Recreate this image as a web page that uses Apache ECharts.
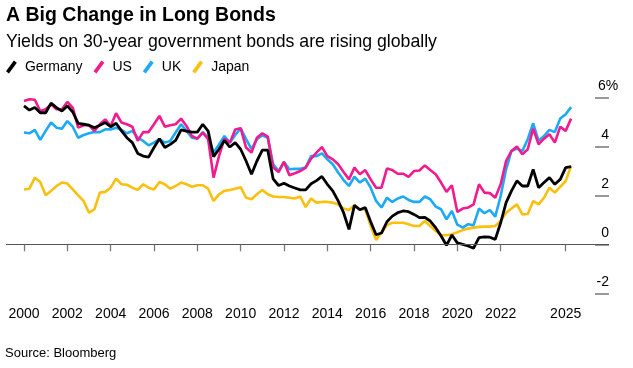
<!DOCTYPE html>
<html>
<head>
<meta charset="utf-8">
<script src="https://cdn.jsdelivr.net/npm/echarts@6/dist/echarts.min.js"></script>
<style>
html,body{margin:0;padding:0;background:#fff;}
#c{width:633px;height:368px;}
</style>
</head>
<body>
<div id="c"></div>
<script>
// Quarterly observations, 2000 Q1 .. 2025 Q2 (102 points)
const startYear = 2000;
const stepYears = 0.25;

const germany = [5.65,5.48,5.58,5.37,5.37,5.76,5.58,5.44,5.65,5.40,
4.94,4.90,4.86,4.76,4.86,4.97,4.80,4.94,4.63,4.35,
4.15,3.71,3.60,3.56,3.95,4.31,3.95,4.08,4.24,4.67,
4.62,4.58,4.58,4.90,4.62,3.58,3.88,4.24,3.97,4.15,
3.88,3.40,2.86,3.40,3.84,3.84,2.67,2.40,2.49,2.38,
2.30,2.22,2.22,2.47,2.60,2.77,2.45,2.18,1.77,1.29,
0.61,1.59,1.41,1.50,0.92,0.39,0.46,0.92,1.15,1.29,
1.36,1.33,1.22,1.09,1.10,0.95,0.68,0.34,-0.04,0.38,
0.06,0.00,-0.07,-0.16,0.27,0.30,0.29,0.20,0.88,1.70,
2.18,2.59,2.38,2.38,3.06,2.31,2.52,2.72,2.45,2.65,
3.13,3.17];

const us = [5.85,5.92,5.90,5.44,5.51,5.71,5.51,5.51,5.81,5.58,
4.76,4.86,4.86,4.63,4.90,5.10,4.83,5.35,4.97,4.90,
4.80,4.22,4.58,4.58,4.90,5.24,4.80,4.86,4.90,5.13,
4.83,4.42,4.31,4.56,4.29,2.72,3.60,4.31,4.15,4.69,
4.74,3.95,3.74,4.35,4.53,4.40,3.13,2.95,3.36,2.82,
2.90,2.99,3.13,3.50,3.74,3.97,3.60,3.47,3.27,2.95,
2.65,3.13,2.86,3.03,2.65,2.31,2.31,3.09,3.03,2.88,
2.88,2.75,2.99,3.01,3.22,3.03,2.86,2.52,2.14,2.41,
1.32,1.46,1.50,1.63,2.45,2.11,2.09,1.90,2.45,3.40,
3.81,3.99,3.67,3.88,4.72,4.08,4.31,4.49,4.15,4.80,
4.63,5.13];

const uk = [4.56,4.53,4.67,4.26,4.63,4.97,4.76,4.72,5.03,4.80,
4.35,4.46,4.53,4.58,4.58,4.69,4.69,4.76,4.67,4.53,
4.63,4.35,4.22,4.04,4.15,4.29,4.15,4.22,4.56,4.90,
4.63,4.35,4.31,4.58,4.35,3.74,4.08,4.42,4.15,4.46,
4.73,4.29,3.88,4.29,4.45,4.35,3.27,2.99,3.36,3.06,
3.08,3.08,3.13,3.60,3.60,3.71,3.47,3.27,2.93,2.62,
2.38,2.76,2.52,2.68,2.31,1.77,1.50,1.90,1.73,1.87,
1.95,1.81,1.73,1.73,1.95,1.84,1.54,1.43,1.02,1.36,
0.80,0.68,0.82,0.78,1.46,1.27,1.40,1.13,1.97,3.06,
3.81,3.91,3.81,4.29,4.94,4.22,4.42,4.67,4.58,5.13,
5.31,5.60];

const japan = [2.24,2.27,2.72,2.54,2.00,2.18,2.38,2.52,2.48,2.24,
2.00,1.77,1.29,1.43,2.11,2.14,2.31,2.68,2.45,2.43,
2.31,2.22,2.45,2.31,2.24,2.54,2.45,2.27,2.38,2.52,
2.45,2.35,2.41,2.41,2.27,1.77,2.04,2.18,2.22,2.27,
2.33,1.90,1.84,2.04,2.22,2.04,1.95,1.93,1.93,1.90,
1.87,1.95,1.52,1.87,1.70,1.73,1.73,1.70,1.63,1.46,
1.40,1.59,1.43,1.43,0.75,0.18,0.48,0.78,0.88,0.88,
0.88,0.82,0.75,0.75,0.95,0.75,0.54,0.37,0.37,0.41,
0.49,0.58,0.64,0.68,0.71,0.72,0.72,0.75,0.95,1.29,
1.46,1.63,1.22,1.24,1.77,1.63,1.90,2.31,2.11,2.35,
2.58,3.20];

const xTicks = [2000,2002,2004,2006,2008,2010,2012,2014,2016,2018,2020,2022,2025];
const seriesNames = ['Germany','US','UK','Japan'];
const colors = {Germany:'#000000', US:'#f21a8f', UK:'#1ca9f5', Japan:'#fbbf0f'};

const FONT = "'Liberation Sans', Arial, Helvetica, sans-serif";

function pairs(vals){
  return vals.map((v,i)=>[startYear + i*stepYears, v]);
}

const slash = 'path://M0,11 L8,0 L11,2.2 L3,13.2 Z';

const chart = echarts.init(document.getElementById('c'), null, {renderer:'canvas'});
chart.setOption({
  animation:false,
  backgroundColor:'#ffffff',
  textStyle:{fontFamily:FONT},
  title:[
    {text:'A Big Change in Long Bonds', left:6, top:6, padding:0,
     textStyle:{fontSize:19.5, fontWeight:'bold', color:'#000', fontFamily:FONT},
     subtext:'Yields on 30-year government bonds are rising globally',
     subtextStyle:{fontSize:17.7, color:'#000', fontFamily:FONT},
     itemGap:7},
    {text:'Source: Bloomberg', left:5, top:347, padding:0,
     textStyle:{fontSize:13, fontWeight:'normal', color:'#000', fontFamily:FONT}}
  ],
  legend:{
    left:6, top:60, padding:0, itemWidth:11, itemHeight:13, itemGap:11,
    icon:slash,
    data:seriesNames,
    textStyle:{fontSize:14, color:'#000', fontFamily:FONT, padding:[0,0,0,3]},
    selectedMode:false
  },
  grid:{left:2.33, right:24, top:97.3, bottom:74.7, containLabel:false},
  xAxis:{
    type:'value', min:1999, max:2027,
    axisLine:{show:false},
    splitLine:{show:false},
    axisTick:{show:true, length:7, lineStyle:{color:'#777', width:1.3}, customValues:xTicks},
    axisLabel:{fontSize:14, color:'#000', margin:14, fontFamily:FONT, customValues:xTicks,
      formatter:v=>String(v)}
  },
  yAxis:{
    type:'value', position:'right', min:-2, max:6, interval:2,
    axisLine:{show:false},
    splitLine:{show:false},
    axisTick:{show:true, inside:true, length:14, lineStyle:{color:'#777', width:1.5}},
    axisLabel:{fontSize:14, color:'#000', margin:-14, align:'left', verticalAlign:'bottom',
      padding:[0,0,4,0], fontFamily:FONT,
      formatter:v=> v===6 ? '{m|6%}' : '{n|' + v + '}',
      rich:{
        n:{fontSize:14, color:'#000', fontFamily:FONT, width:14, align:'right'},
        m:{fontSize:14, color:'#000', fontFamily:FONT, padding:[0,0,0,3]}
      }}
  },
  series:[
    {name:'Japan', type:'line', data:pairs(japan), showSymbol:false, symbol:'none',
     lineStyle:{width:2.6, color:colors.Japan}, itemStyle:{color:colors.Japan},
     markLine:{silent:true, symbol:'none', label:{show:false},
       lineStyle:{color:'#555', width:1.2, type:'solid'},
       data:[[{coord:[1999.17,0]},{coord:[2027,0]}]]}},
    {name:'UK', type:'line', data:pairs(uk), showSymbol:false, symbol:'none',
     lineStyle:{width:2.6, color:colors.UK}, itemStyle:{color:colors.UK}},
    {name:'US', type:'line', data:pairs(us), showSymbol:false, symbol:'none',
     lineStyle:{width:2.6, color:colors.US}, itemStyle:{color:colors.US}},
    {name:'Germany', type:'line', data:pairs(germany), showSymbol:false, symbol:'none',
     lineStyle:{width:2.8, color:colors.Germany}, itemStyle:{color:colors.Germany}}
  ]
});
</script>
</body>
</html>
